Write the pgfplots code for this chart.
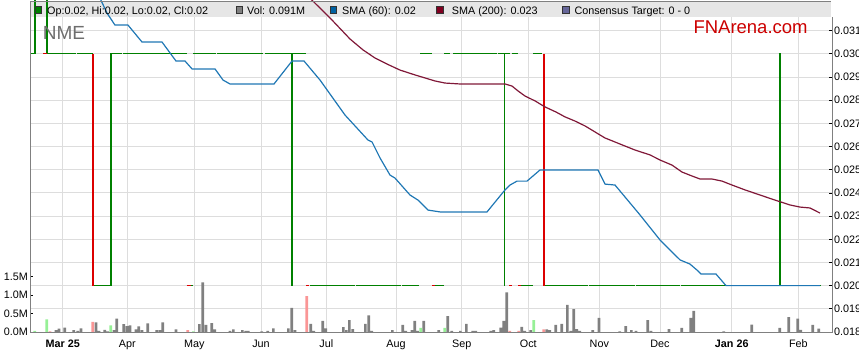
\documentclass[border=0pt]{standalone}
\usepackage{pgfplots}
\pgfplotsset{compat=1.18}
\usepackage{fontspec}
\setmainfont{Liberation Sans}
\definecolor{pgreen}{RGB}{0,128,0}
\definecolor{pred}{RGB}{220,0,0}
\definecolor{sblue}{RGB}{31,119,180}
\definecolor{smaroon}{RGB}{128,24,56}
\definecolor{gridc}{RGB}{221,221,221}
\definecolor{framec}{RGB}{128,128,128}
\definecolor{bandc}{RGB}{230,230,230}
\definecolor{volg}{RGB}{128,128,128}
\definecolor{volgreen}{RGB}{150,240,150}
\definecolor{volred}{RGB}{250,150,150}
\definecolor{ctarget}{RGB}{102,102,153}
\definecolor{lgblue}{RGB}{0,96,160}
\definecolor{lgmaroon}{RGB}{128,0,32}
\definecolor{nmec}{RGB}{110,110,110}
\definecolor{fnc}{RGB}{204,0,0}
\newcommand{\tfont}{\fontsize{10.8bp}{13bp}\selectfont}

\begin{document}
\begin{tikzpicture}
% ---------------- price axis ----------------
\begin{axis}[
  at={(30bp,31bp)}, anchor=south west, scale only axis,
  width=802bp, height=332bp,
  xmin=30, xmax=832, ymin=0.018, ymax=0.032323,
  axis x line*=bottom, axis y line*=right, axis line style={draw=none},
  xtick={62.7,127.3,194.3,261,326.3,396,461.7,528.3,599.3,660,731.7,798.3},
  xticklabels={\textbf{Mar 25},Apr,May,Jun,Jul,Aug,Sep,Oct,Nov,Dec,\textbf{Jan 26},Feb},
  xtick style={draw=none},
  ytick={0.018,0.019,0.020,0.021,0.022,0.023,0.024,0.025,0.026,0.027,0.028,0.029,0.030,0.031},
  yticklabels={0.018,0.019,0.020,0.021,0.022,0.023,0.024,0.025,0.026,0.027,0.028,0.029,0.030,0.031},
  tick align=inside, major tick length=3bp,
  ytick style={black, line width=0.8bp},
  grid=major, grid style={gridc, line width=1bp},
  tick label style={font=\tfont},
  xticklabel style={anchor=base, yshift=-15bp},
  yticklabel style={anchor=west, inner sep=0pt, xshift=2bp},
  unbounded coords=jump,
]
\fill[white] (rel axis cs:0,0.99398) rectangle (rel axis cs:1,1);
\fill[bandc] (rel axis cs:0,0.9488) rectangle (rel axis cs:0.99875,0.99398);

% price (green ticks)
\addplot[pgreen, line width=1.1bp] coordinates {
(30,0.030) (35,0.030) (35,0.0325) (nan,nan)
(47,0.0325) (47,0.030) (76,0.030) (nan,nan)
(77,0.030) (93,0.030) (nan,nan)
(93,0.020) (111,0.020) (111,0.030) (121.7,0.030) (nan,nan)
(123.3,0.030) (186.7,0.030) (nan,nan)
(190.7,0.020) (193.3,0.020) (nan,nan)
(193.3,0.030) (216,0.030) (nan,nan)
(217.3,0.030) (263.3,0.030) (nan,nan)
(265,0.030) (306,0.030) (nan,nan)
(292,0.030) (292,0.020) (nan,nan)
(310,0.020) (355,0.020) (nan,nan)
(356,0.020) (401,0.020) (nan,nan)
(402,0.020) (419,0.020) (nan,nan)
(420,0.030) (431.7,0.030) (nan,nan)
(435,0.020) (444,0.020) (nan,nan)
(444.3,0.030) (450,0.030) (nan,nan)
(453.3,0.030) (496.7,0.030) (nan,nan)
(497.5,0.030) (510,0.030) (nan,nan)
(504.3,0.030) (504.3,0.020) (nan,nan)
(511.7,0.030) (518.3,0.030) (nan,nan)
(521,0.020) (533,0.020) (nan,nan)
(533.3,0.030) (541.7,0.030) (nan,nan)
(544.3,0.020) (588,0.020) (nan,nan)
(589,0.020) (635,0.020) (nan,nan)
(636,0.020) (680,0.020) (nan,nan)
(681,0.020) (821,0.020) (nan,nan)
(778.7,0.030) (780,0.030) (780,0.020)
};
% price (red ticks)
\addplot[pred, line width=1.1bp] coordinates {
(43,0.030) (47,0.030) (nan,nan)
(93,0.030) (93,0.020) (nan,nan)
(186.7,0.020) (190.7,0.020) (nan,nan)
(306,0.020) (309,0.020) (nan,nan)
(432,0.020) (435,0.020) (nan,nan)
(509,0.020) (512,0.020) (nan,nan)
(518,0.020) (521,0.020) (nan,nan)
(544,0.030) (544,0.020)
};
% SMA 200
\addplot[smaroon, line width=1.2bp] coordinates {
(310,0.0324) (330,0.03155) (350,0.03064) (363,0.03017) (375,0.02982) (387,0.02956)
(400,0.02930) (415,0.02909) (425,0.02896) (435,0.02883) (445,0.02874) (460,0.02870)
(505,0.02870) (512,0.02861) (518,0.02840) (525,0.02818) (535,0.02797) (545,0.02771)
(556,0.02749) (565,0.02728) (575,0.02710) (585,0.02689) (595,0.02663) (605,0.02637)
(620,0.02611) (635,0.02585) (650,0.02564) (660,0.02542) (672,0.02520) (682,0.02490)
(692,0.02473) (700,0.02460) (712,0.02460) (722,0.02451) (732,0.02434) (745,0.02413)
(760,0.02391) (775,0.02369) (790,0.02348) (800,0.02339) (810,0.02335) (820,0.02313)
};
% SMA 60
\addplot[sblue, line width=1.2bp] coordinates {
(100,0.0324) (107,0.03176) (115,0.03124) (128,0.03124) (142,0.03051) (162,0.03051)
(176,0.02969) (185,0.02969) (192,0.02935) (215,0.02935) (223,0.02887) (230,0.02870)
(274,0.02870) (292,0.02969) (304,0.02969) (320,0.02887) (345,0.02736) (368,0.02628)
(372,0.02620) (380,0.02551) (390,0.02477) (395,0.02464) (410,0.02391) (418,0.02369)
(428,0.02326) (440,0.02318) (487,0.02318) (505,0.02413) (510,0.02434) (517,0.02451)
(527,0.02451) (540,0.02499) (598,0.02499) (605,0.02438) (615,0.02434) (640,0.02305)
(660,0.02197) (680,0.02111) (690,0.02093) (697,0.02067) (701,0.02050) (716,0.02050)
(726,0.02000) (820,0.02000)
};
\end{axis}

% ---------------- volume axis ----------------
\begin{axis}[
  at={(30bp,31bp)}, anchor=south west, scale only axis,
  width=802bp, height=332bp,
  xmin=30, xmax=832, ymin=0, ymax=8.949,
  axis x line*=bottom, axis y line*=left, axis line style={draw=none},
  xtick=\empty,
  ytick={0,0.5,1,1.5}, yticklabels={0.0M,0.5M,1.0M,1.5M},
  tick align=inside, major tick length=3bp,
  ytick style={black, line width=0.8bp},
  tick label style={font=\tfont},
  yticklabel style={anchor=east, inner sep=0pt, xshift=-2bp},
]
\addplot[ybar, bar width=2.6, bar shift=0pt, fill=volg, draw=none] coordinates {
(56,0.05) (59,0.09) (64.7,0.12) (73.7,0.05) (77.7,0.03) (81,0.10) (96,0.26) (99,0.03)
(104.7,0.06) (107.7,0.02) (114,0.05) (116.7,0.36) (123.7,0.21) (127,0.16) (130,0.18)
(136,0.07) (138.7,0.15) (142,0.05) (147.7,0.23) (156.7,0.05) (160,0.05) (162.7,0.26)
(176,0.07) (199.3,0.21) (202.7,1.34) (206,0.19) (211.7,0.24) (214.7,0.07) (230,0.03)
(233.3,0.07) (242.3,0.05) (245.7,0.03) (248.3,0.03) (261.7,0.02) (267.7,0.03) (273.3,0.10)
(288.3,0.10) (291.7,0.65) (295,0.05)
(310.7,0.22) (313.7,0.03) (322.7,0.30) (325.7,0.10) (343.3,0.13) (346.3,0.05) (349.3,0.32)
(352.7,0.08) (365.3,0.22) (368.7,0.45) (371.7,0.03) (392.3,0.05) (402.7,0.19) (405.7,0.03)
(412,0.05) (414.7,0.30) (417.7,0.03) (423.7,0.30) (438.7,0.05) (447.7,0.43) (451.7,0.03)
(460.3,0.03) (466.3,0.22) (472.7,0.03) (475.7,0.03) (490.7,0.03) (493.7,0.05) (500.7,0.12)
(503.7,0.30) (506.7,1.07) (521.7,0.14) (524.7,0.03) (530.7,0.05) (546.7,0.07) (549.7,0.05)
(555.7,0.19) (561.7,0.22) (567.3,0.73) (570.7,0.03) (573.7,0.62) (576.7,0.08)
(579.7,0.03) (592.7,0.05) (599,0.38) (619.7,0.02) (625.7,0.16) (631.3,0.05) (636,0.03)
(647.7,0.32) (651,0.03) (669,0.08) (681.7,0.11) (690.7,0.38) (693.7,0.57) (723.7,0.02)
(751.7,0.20) (779.7,0.11) (788.7,0.40) (797.7,0.36) (800.7,0.06) (812.7,0.19) (818.7,0.09)
};
\addplot[ybar, bar width=2.6, bar shift=0pt, fill=volgreen, draw=none] coordinates {
(34.7,0.03) (46.7,0.34) (110.7,0.18) (193.3,0.02) (420.7,0.11) (444.7,0.11) (533.7,0.32)
};
\addplot[ybar, bar width=2.6, bar shift=0pt, fill=volred, draw=none] coordinates {
(50,0.02) (92.7,0.27) (187.7,0.05) (306.7,0.97) (509.7,0.03) (518.7,0.03) (543.7,0.07)
};
\end{axis}

\begin{scope}[x=1bp,y=1bp]
% frame
\draw[framec, line width=1bp] (30,361) -- (30,31) -- (832,31) -- (832,346);
\draw[framec, line width=1bp] (30,361) -- (831,361);

% header legend
\filldraw[fill=pgreen, draw=black!80, line width=0.6bp] (35,349.7) rectangle (41.7,356.3);
\node[anchor=base west, inner sep=0pt, font=\tfont] at (47,349) {Op:0.02, Hi:0.02, Lo:0.02, Cl:0.02};
\filldraw[fill=volg, draw=black!80, line width=0.6bp] (236,349.7) rectangle (242.7,356.3);
\node[anchor=base west, inner sep=0pt, font=\tfont] at (247,349) {Vol: 0.091M};
\filldraw[fill=lgblue, draw=black!80, line width=0.6bp] (330,349.7) rectangle (336.7,356.3);
\node[anchor=base west, inner sep=0pt, font=\tfont] at (342,349) {SMA (60): 0.02};
\filldraw[fill=lgmaroon, draw=black!80, line width=0.6bp] (436.7,349.7) rectangle (443.3,356.3);
\node[anchor=base west, inner sep=0pt, font=\tfont] at (451.7,349) {SMA (200): 0.023};
\filldraw[fill=ctarget, draw=black!80, line width=0.6bp] (562.3,349.7) rectangle (569,356.3);
\node[anchor=base west, inner sep=0pt, font=\tfont] at (574.3,349) {Consensus Target: 0 - 0};

% titles
\node[anchor=base west, inner sep=0pt, text=nmec, font=\fontsize{19bp}{22bp}\selectfont] at (42.7,324) {NME};
\node[anchor=base west, inner sep=0pt, text=fnc, font=\fontsize{18.5bp}{22bp}\selectfont] at (693.3,329.7) {FNArena.com};

\pgfresetboundingbox
\path[use as bounding box] (0,0) rectangle (859,363);
\end{scope}
\end{tikzpicture}
\end{document}
